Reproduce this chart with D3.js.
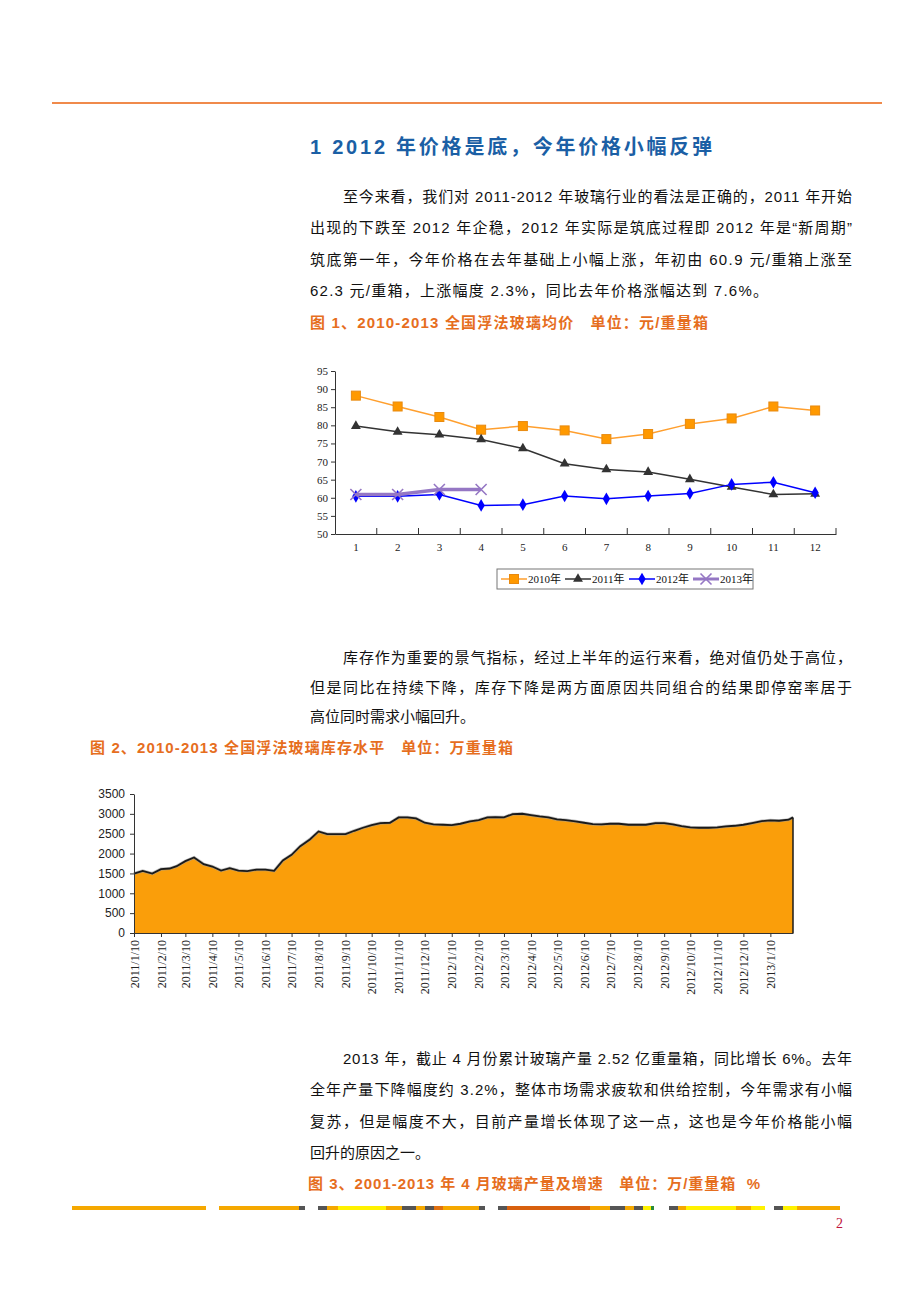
<!DOCTYPE html>
<html><head><meta charset="utf-8">
<script src="https://cdn.jsdelivr.net/npm/d3@7"></script>
<style>body{margin:0;background:#fff}svg{display:block}text{white-space:pre}</style>
</head><body>
<svg id="page" width="920" height="1302"></svg>
<script>
// ---------- data ----------
const months = [1,2,3,4,5,6,7,8,9,10,11,12];
const price2010 = [88.2,85.2,82.3,78.8,79.8,78.6,76.2,77.6,80.4,81.9,85.2,84.1];
const price2011 = [79.8,78.2,77.4,76.1,73.6,69.4,67.8,67.1,65.1,63.0,60.9,61.1];
const price2012 = [60.4,60.4,60.9,57.9,58.1,60.5,59.7,60.5,61.2,63.7,64.3,61.4];
const price2013 = [60.9,60.9,62.3,62.3];
const priceTicks = [50,55,60,65,70,75,80,85,90,95];
const seriesNames = ["2010年","2011年","2012年","2013年"];

const invDates = [
 "2011/1/10","2011/1/20","2011/1/31","2011/2/10","2011/2/20","2011/2/28",
 "2011/3/10","2011/3/20","2011/3/31","2011/4/10","2011/4/20","2011/4/30",
 "2011/5/10","2011/5/20","2011/5/31","2011/6/10","2011/6/20","2011/6/30",
 "2011/7/10","2011/7/20","2011/7/31","2011/8/10","2011/8/20","2011/8/31",
 "2011/9/10","2011/9/20","2011/9/30","2011/10/10","2011/10/20","2011/10/31",
 "2011/11/10","2011/11/20","2011/11/30","2011/12/10","2011/12/20","2011/12/31",
 "2012/1/10","2012/1/20","2012/1/31","2012/2/10","2012/2/20","2012/2/29",
 "2012/3/10","2012/3/20","2012/3/31","2012/4/10","2012/4/20","2012/4/30",
 "2012/5/10","2012/5/20","2012/5/31","2012/6/10","2012/6/20","2012/6/30",
 "2012/7/10","2012/7/20","2012/7/31","2012/8/10","2012/8/20","2012/8/31",
 "2012/9/10","2012/9/20","2012/9/30","2012/10/10","2012/10/20","2012/10/31",
 "2012/11/10","2012/11/20","2012/11/30","2012/12/10","2012/12/20","2012/12/31",
 "2013/1/10","2013/1/20","2013/1/31","2013/2/5"];
const invValues = [
 1497,1565,1497,1607,1624,1683,
 1809,1901,1733,1674,1573,1632,
 1573,1556,1598,1598,1565,1826,
 1969,2187,2356,2557,2490,2490,
 2490,2574,2650,2717,2768,2776,
 2911,2911,2886,2776,2734,2726,
 2717,2751,2810,2844,2911,2920,
 2911,2995,3003,2970,2936,2911,
 2860,2844,2810,2776,2743,2734,
 2751,2751,2726,2726,2726,2768,
 2768,2734,2692,2658,2650,2650,
 2658,2684,2700,2726,2768,2818,
 2835,2827,2852,2911];
const invTicks = [0,500,1000,1500,2000,2500,3000,3500];
const invTickDates = ["2011/1/10","2011/2/10","2011/3/10","2011/4/10","2011/5/10","2011/6/10",
 "2011/7/10","2011/8/10","2011/9/10","2011/10/10","2011/11/10","2011/12/10",
 "2012/1/10","2012/2/10","2012/3/10","2012/4/10","2012/5/10","2012/6/10",
 "2012/7/10","2012/8/10","2012/9/10","2012/10/10","2012/11/10","2012/12/10","2013/1/10"];

// ---------- page texts ----------
const titleText = "1 2012 年价格是底，今年价格小幅反弹";
const para1 = [
 "至今来看，我们对 2011-2012 年玻璃行业的看法是正确的，2011 年开始",
 "出现的下跌至 2012 年企稳，2012 年实际是筑底过程即 2012 年是“新周期”",
 "筑底第一年，今年价格在去年基础上小幅上涨，年初由 60.9 元/重箱上涨至",
 "62.3 元/重箱，上涨幅度 2.3%，同比去年价格涨幅达到 7.6%。"];
const caption1 = "图 1、2010-2013 全国浮法玻璃均价   单位：元/重量箱";
const para2 = [
 "库存作为重要的景气指标，经过上半年的运行来看，绝对值仍处于高位，",
 "但是同比在持续下降，库存下降是两方面原因共同组合的结果即停窑率居于",
 "高位同时需求小幅回升。"];
const caption2 = "图 2、2010-2013 全国浮法玻璃库存水平   单位：万重量箱";
const para3 = [
 "2013 年，截止 4 月份累计玻璃产量 2.52 亿重量箱，同比增长 6%。去年",
 "全年产量下降幅度约 3.2%，整体市场需求疲软和供给控制，今年需求有小幅",
 "复苏，但是幅度不大，目前产量增长体现了这一点，这也是今年价格能小幅",
 "回升的原因之一。"];
const caption3 = "图 3、2001-2013 年 4 月玻璃产量及增速   单位：万/重量箱  %";

const svg = d3.select("#page");
svg.append("rect").attr("width",920).attr("height",1302).attr("fill","#fff");

const bodyFont = "'Liberation Sans','Noto Sans CJK SC',sans-serif";
const serifFont = "'Liberation Serif','Noto Sans CJK SC',serif";

// top rule
svg.append("line").attr("x1",52).attr("x2",882).attr("y1",103).attr("y2",103)
  .attr("stroke","#F08A4B").attr("stroke-width",2);

function textLine(x, y, str, opt) {
  const t = svg.append("text").attr("x",x).attr("y",y)
    .attr("xml:space","preserve")
    .attr("dominant-baseline","central")
    .attr("font-family", opt.font || bodyFont)
    .attr("font-size", opt.size || 15)
    .attr("font-weight", opt.weight || "normal")
    .attr("fill", opt.fill || "#111").text(str);
  if (opt.len) t.attr("textLength",opt.len).attr("lengthAdjust","spacing");
  return t;
}

textLine(310,147,titleText,{size:20,weight:"bold",fill:"#1B5FA5",len:402});

function paragraph(lines, ys, lens) {
  lines.forEach((s,i) => {
    const x = i===0 ? 343 : 310;
    textLine(x, ys[i], s, {len: lens[i]});
  });
}
paragraph(para1,[196,227,259,290],[509,542,542,458]);
textLine(310,322,caption1,{size:15,weight:"bold",fill:"#E66E1E",len:398});
paragraph(para2,[657,687,716],[509,542,null]);
textLine(90,747,caption2,{size:15,weight:"bold",fill:"#E66E1E",len:423});
paragraph(para3,[1058,1089,1121,1152],[509,542,542,null]);
textLine(308,1183,caption3,{size:15,weight:"bold",fill:"#E66E1E",len:452});

// ---------- chart 1 : price lines ----------
const c1 = svg.append("g");
const x1 = d3.scaleBand().domain(months).range([335,836]);
const y1 = d3.scaleLinear().domain([50,95]).range([534,371]);
const cx = m => x1(m) + x1.bandwidth()/2;

const yAx1 = c1.append("g").attr("transform","translate(335,0)")
  .call(d3.axisLeft(y1).tickValues(priceTicks).tickSize(4).tickSizeOuter(0).tickPadding(3));
yAx1.select(".domain").attr("stroke","#333");
yAx1.selectAll(".tick line").attr("stroke","#333");
yAx1.selectAll("text").attr("font-family",serifFont).attr("font-size",11).attr("fill","#222");

const xAx1 = c1.append("g").attr("transform","translate(0,534)")
  .call(d3.axisBottom(x1).tickSize(0).tickPadding(9));
xAx1.select(".domain").attr("stroke","#333");
xAx1.selectAll("text").attr("font-family",serifFont).attr("font-size",11).attr("fill","#222");
// inner category boundary ticks
c1.selectAll(".bt").data(months.slice(1).concat(["end"])).enter().append("line")
  .attr("x1", d => d==="end" ? x1.range()[1] : x1(d))
  .attr("x2", d => d==="end" ? x1.range()[1] : x1(d))
  .attr("y1",534).attr("y2",528).attr("stroke","#333");

const series = [
  {name:seriesNames[0], values:price2010, color:"#FF9F2E", width:1.5, marker:"square"},
  {name:seriesNames[1], values:price2011, color:"#333333", width:1.5, marker:"triangle"},
  {name:seriesNames[2], values:price2012, color:"#0000FF", width:1.5, marker:"diamond"},
  {name:seriesNames[3], values:price2013, color:"#9577C4", width:3.5, marker:"x"}
];
const lineGen = d3.line().x((d,i)=>cx(months[i])).y(d=>y1(d));

function drawMarker(g, type, color) {
  if (type==="square") {
    g.append("rect").attr("x",-4.5).attr("y",-4.5).attr("width",9).attr("height",9)
      .attr("fill","#FF9900").attr("stroke","#E88A10").attr("stroke-width",1);
  } else if (type==="triangle") {
    g.append("path").attr("d",d3.symbol(d3.symbolTriangle,42)()).attr("fill",color);
  } else if (type==="diamond") {
    g.append("path").attr("d",d3.symbol(d3.symbolDiamond,46)()).attr("fill",color);
  } else {
    g.append("path").attr("d","M-5.5,-5.5L5.5,5.5M-5.5,5.5L5.5,-5.5")
      .attr("stroke",color).attr("stroke-width",1.6).attr("fill","none");
  }
}

series.forEach(s => {
  c1.append("path").datum(s.values).attr("d",lineGen).attr("fill","none")
    .attr("stroke",s.color).attr("stroke-width",s.width);
  s.values.forEach((v,i) => {
    const g = c1.append("g").attr("transform",`translate(${cx(months[i])},${y1(v)})`);
    drawMarker(g, s.marker, s.color);
  });
});

// legend
const leg = c1.append("g");
leg.append("rect").attr("x",497).attr("y",569).attr("width",256).attr("height",20)
  .attr("fill","#fff").attr("stroke","#777");
const legX = [501,565,629,693];
series.forEach((s,i) => {
  const lx = legX[i];
  leg.append("line").attr("x1",lx).attr("x2",lx+26).attr("y1",579).attr("y2",579)
    .attr("stroke",s.color).attr("stroke-width",s.width===3.5?3:1.5);
  const g = leg.append("g").attr("transform",`translate(${lx+13},579)`);
  drawMarker(g, s.marker, s.color);
  leg.append("text").attr("x",lx+27).attr("y",579).attr("dominant-baseline","central")
    .attr("font-family",serifFont).attr("font-size",11).attr("fill","#111").text(s.name);
});

// ---------- chart 2 : inventory area ----------
const parse = d3.timeParse("%Y/%m/%d");
const c2 = svg.append("g");
const invData = invDates.map((d,i)=>({date:parse(d), v:invValues[i]}));
const x2 = d3.scaleTime().domain(d3.extent(invData,d=>d.date)).range([134,793]);
const y2 = d3.scaleLinear().domain([0,3500]).range([933,794]);

c2.append("path").datum(invData)
  .attr("d", d3.area().x(d=>x2(d.date)).y0(y2(0)).y1(d=>y2(d.v)))
  .attr("fill","#FA9E0A");
c2.append("path").datum(invData)
  .attr("d", d3.line().x(d=>x2(d.date)).y(d=>y2(d.v)))
  .attr("fill","none").attr("stroke","#999").attr("stroke-width",3.2).attr("opacity",0.6);
c2.append("path").datum(invData)
  .attr("d", d3.line().x(d=>x2(d.date)).y(d=>y2(d.v)))
  .attr("fill","none").attr("stroke","#1a1a1a").attr("stroke-width",1.8);
const last = invData[invData.length-1];
c2.append("line").attr("x1",x2(last.date)).attr("x2",x2(last.date))
  .attr("y1",y2(last.v)).attr("y2",y2(0)).attr("stroke","#1a1a1a").attr("stroke-width",1.5);

const yAx2 = c2.append("g").attr("transform","translate(134,0)")
  .call(d3.axisLeft(y2).tickValues(invTicks).tickFormat(d3.format("d"))
    .tickSize(4).tickSizeOuter(0).tickPadding(5));
yAx2.select(".domain").attr("stroke","#333");
yAx2.selectAll(".tick line").attr("stroke","#333");
yAx2.selectAll("text").attr("font-family",bodyFont).attr("font-size",12).attr("fill","#222");

const fmt = d3.timeFormat("%Y/%-m/%-d");
const xAx2 = c2.append("g").attr("transform","translate(0,933)")
  .call(d3.axisBottom(x2).tickValues(invTickDates.map(parse)).tickFormat(fmt)
    .tickSize(4).tickSizeOuter(0));
xAx2.select(".domain").attr("stroke","#333");
xAx2.selectAll(".tick line").attr("stroke","#333");
xAx2.selectAll("text").attr("font-family",serifFont).attr("font-size",12).attr("fill","#222")
  .attr("transform","rotate(-90)").attr("text-anchor","end")
  .attr("x",-7).attr("y",0).attr("dy","0.35em");

// ---------- footer ----------
const footerSegs = [
 [72,206,"#F5A800"],[219,299,"#F5A800"],[299,305,"#555"],[318,327,"#555"],
 [327,338,"#F5A800"],[338,386,"#FFF200"],[386,402,"#F5A800"],[402,416,"#555"],
 [416,425,"#F5A800"],[425,434,"#555"],[434,443,"#E07010"],[443,479,"#F5A800"],
 [479,485,"#555"],[498,507,"#555"],[507,590,"#D8600E"],[590,610,"#F5A800"],
 [610,625,"#555"],[625,634,"#F5A800"],[634,643,"#555"],[643,651,"#FFF200"],
 [651,654,"#2A8A3A"],[669,678,"#555"],[678,686,"#F5A800"],[686,736,"#FFF200"],
 [736,751,"#F5A800"],[751,765,"#FFF200"],[774,783,"#555"],[783,797,"#FFF200"],
 [797,840,"#F5A800"]];
svg.append("g").selectAll("rect").data(footerSegs).enter().append("rect")
  .attr("x",d=>d[0]).attr("width",d=>d[1]-d[0]).attr("y",1206).attr("height",4)
  .attr("fill",d=>d[2]);
svg.append("text").attr("x",843).attr("y",1223).attr("text-anchor","end")
  .attr("dominant-baseline","central").attr("font-family",serifFont)
  .attr("font-size",14).attr("fill","#C0143C").text("2");
</script>
</body></html>
